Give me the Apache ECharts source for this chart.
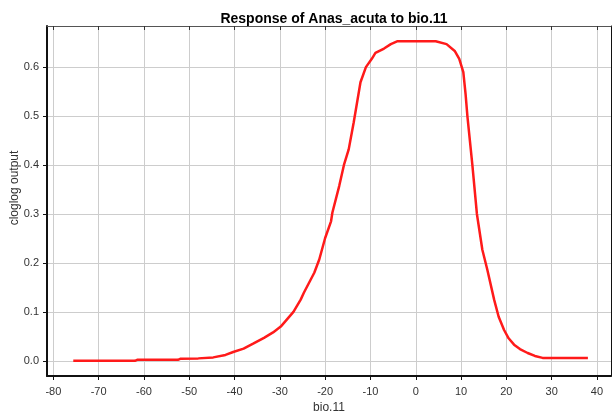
<!DOCTYPE html>
<html>
<head>
<meta charset="utf-8">
<title>Response of Anas_acuta to bio.11</title>
<script src="https://cdn.jsdelivr.net/npm/echarts@6/dist/echarts.min.js"></script>
<style>
  html, body { margin: 0; padding: 0; background: #fff; }
  #main { width: 612px; height: 416px; }
</style>
</head>
<body>
<div id="main"></div>
<script>
// response curve
var bioValues = [-75.6, -62.0, -61.5, -52.5, -52.0, -48.0, -44.7, -42.0, -40.3, -38.0,
  -35.9, -33.5, -31.5, -29.8, -27.0, -25.4, -24.7, -22.4, -21.3, -20.0,
  -18.7, -18.4, -16.9, -15.8, -14.8, -13.7, -12.2, -11.0, -9.7, -8.9,
  -7.0, -5.5, -4.0, 4.4, 6.8, 8.6, 9.6, 10.5, 11.0, 11.4,
  12.5, 13.5, 14.7, 15.8, 17.3, 18.3, 19.5, 20.5, 21.7,
  23.0, 24.7, 26.3, 28.0, 38.0];
var outputValues = [0.000, 0.000, 0.002, 0.002, 0.004, 0.005, 0.007, 0.012, 0.018, 0.025,
  0.035, 0.047, 0.058, 0.070, 0.100, 0.125, 0.139, 0.180, 0.207, 0.251,
  0.285, 0.303, 0.357, 0.402, 0.432, 0.487, 0.569, 0.600, 0.617, 0.629,
  0.638, 0.647, 0.653, 0.653, 0.647, 0.633, 0.617, 0.590, 0.545, 0.500,
  0.400, 0.300, 0.227, 0.186, 0.125, 0.090, 0.063, 0.046, 0.033,
  0.024, 0.016, 0.010, 0.006, 0.006];
var xTicks = [-80, -70, -60, -50, -40, -30, -20, -10, 0, 10, 20, 30, 40];
var yTicks = [0, 0.1, 0.2, 0.3, 0.4, 0.5, 0.6];

var points = bioValues.map(function (x, i) { return [x, outputValues[i]]; });

var myChart = echarts.init(document.getElementById('main'));
var font = 'Liberation Sans';

var option = {
    backgroundColor: '#fff',
    animation: false,
    title: {
        text: 'Response of Anas_acuta to bio.11',
        left: 329,
        textAlign: 'center',
        top: 7,
        textStyle: { fontSize: 14, fontWeight: 'bold', color: '#000', fontFamily: font }
    },
    grid: { left: 47, right: 1, top: 26, bottom: 40, outerBoundsMode: 'none' },
    xAxis: [{
        type: 'value',
        min: -81.4,
        max: 43.1,
        name: 'bio.11',
        nameLocation: 'middle',
        nameGap: 26,
        nameMoveOverlap: false,
        nameTextStyle: { fontSize: 12, color: '#333', fontFamily: font },
        axisLine: { show: true, onZero: false, lineStyle: { color: '#111', width: 2 } },
        axisTick: { show: true, length: 4, customValues: xTicks, lineStyle: { color: '#111' } },
        axisLabel: { customValues: xTicks, fontSize: 11, color: '#333', fontFamily: font, margin: 10 },
        splitLine: { show: true, lineStyle: { color: '#cdcdcd', width: 1 } }
    }, {
        type: 'value',
        position: 'top',
        min: -81.4,
        max: 43.1,
        axisLine: { show: true, onZero: false, lineStyle: { color: '#555', width: 1 } },
        axisTick: { show: true, inside: true, length: 4, customValues: xTicks, lineStyle: { color: '#333' } },
        axisLabel: { show: false },
        splitLine: { show: false }
    }],
    yAxis: [{
        type: 'value',
        min: -0.031,
        max: 0.684,
        name: 'cloglog output',
        nameLocation: 'middle',
        nameGap: 26,
        nameMoveOverlap: false,
        nameTextStyle: { fontSize: 12, color: '#333', fontFamily: font, padding: [0, 0, 0, 26] },
        axisLine: { show: true, onZero: false, lineStyle: { color: '#111', width: 2 } },
        axisTick: { show: true, length: 4, customValues: yTicks, lineStyle: { color: '#111' } },
        axisLabel: {
            customValues: yTicks, fontSize: 11, color: '#333', fontFamily: font, margin: 8,
            formatter: function (v) { return v.toFixed(1); }
        },
        splitLine: { show: true, lineStyle: { color: '#cdcdcd', width: 1 } }
    }, {
        type: 'value',
        position: 'right',
        min: -0.031,
        max: 0.684,
        axisLine: { show: true, onZero: false, lineStyle: { color: '#111', width: 1 } },
        axisTick: { show: true, length: 4, customValues: yTicks, lineStyle: { color: '#111' } },
        axisLabel: { show: false },
        splitLine: { show: false }
    }],
    series: [{
        type: 'line',
        data: points,
        showSymbol: false,
        smooth: false,
        lineStyle: { color: '#ff1a1a', width: 2.5 },
        itemStyle: { color: '#ff1a1a' }
    }]
};

myChart.setOption(option);
window.addEventListener('resize', function () {
    myChart.resize();
});
</script>
</body>
</html>
